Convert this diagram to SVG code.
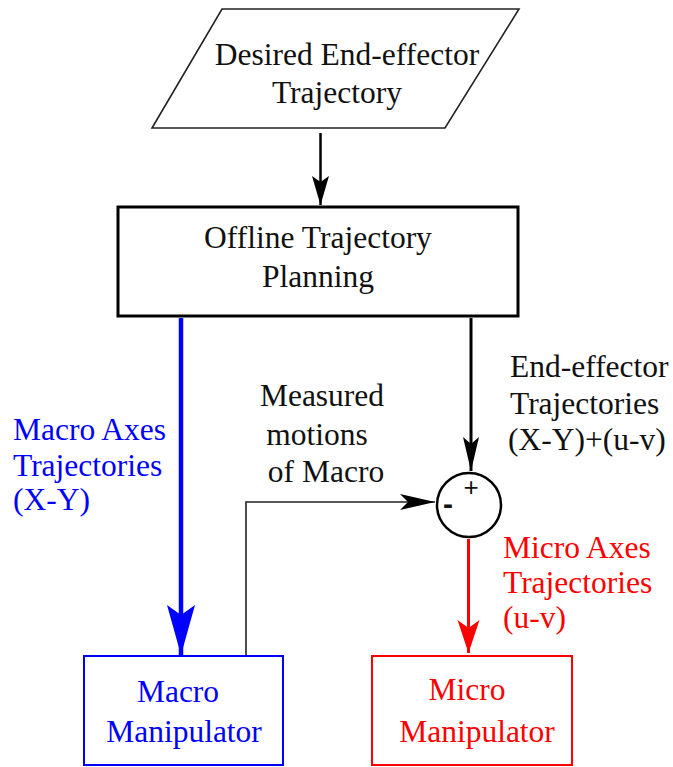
<svg xmlns="http://www.w3.org/2000/svg" width="673" height="767" viewBox="0 0 673 767">
  <style>
    text { font-family: "Liberation Serif", "Times New Roman", serif; font-size: 31.5px; fill: #111; }
    .mid { text-anchor: middle; }
    .blue { fill: #0000ff; }
    .red { fill: #ff0000; }
    .sign { font-family: "Liberation Sans", Arial, sans-serif; font-size: 26px; text-anchor: middle; }
    .minus { font-size: 30px; font-weight: bold; }
  </style>
  <defs>
    <!-- notched arrowheads, tip at the path end -->
    <marker id="headBlack" markerUnits="userSpaceOnUse" viewBox="-30 -9 31 18" markerWidth="31" markerHeight="18" refX="0" refY="0" orient="auto">
      <path d="M0,0 L-29,-8.5 L-23,0 L-29,8.5 Z" fill="#000"/>
    </marker>
    <marker id="headBlackSum" markerUnits="userSpaceOnUse" viewBox="-35 -9 36 18" markerWidth="36" markerHeight="18" refX="0" refY="0" orient="auto">
      <path d="M0,0 L-34,-8 L-27,0 L-34,8 Z" fill="#000"/>
    </marker>
    <marker id="headFeedback" markerUnits="userSpaceOnUse" viewBox="-36 -9 37 18" markerWidth="37" markerHeight="18" refX="0" refY="0" orient="auto">
      <path d="M0,0 L-35,-8 L-27,0 L-35,8 Z" fill="#000"/>
    </marker>
    <marker id="headBlue" markerUnits="userSpaceOnUse" viewBox="-52 -15 53 30" markerWidth="53" markerHeight="30" refX="0" refY="0" orient="auto">
      <path d="M0,0 L-50,-14 L-40,0 L-50,14 Z" fill="#0000ff"/>
    </marker>
    <marker id="headRed" markerUnits="userSpaceOnUse" viewBox="-35 -12 36 24" markerWidth="36" markerHeight="24" refX="0" refY="0" orient="auto">
      <path d="M0,0 L-33,-11 L-25,0 L-33,11 Z" fill="#ff0000"/>
    </marker>
  </defs>

  <rect width="673" height="767" fill="#fff"/>

  <!-- connectors -->
  <g id="connectors" fill="none">
    <path d="M320.5,133 V205" stroke="#000" stroke-width="2.5" marker-end="url(#headBlack)"/>
    <path d="M181,318 V655" stroke="#0000ff" stroke-width="4.5" marker-end="url(#headBlue)"/>
    <path d="M471,318 V471" stroke="#000" stroke-width="3" marker-end="url(#headBlackSum)"/>
    <path d="M246,655 V502 H435" stroke="#222" stroke-width="1.6" marker-end="url(#headFeedback)"/>
    <path d="M468.5,539 V653" stroke="#ff0000" stroke-width="3" marker-end="url(#headRed)"/>
  </g>

  <!-- input trajectory -->
  <g id="desired-trajectory">
    <polygon points="222,9 519,9 445,128 152,128" fill="#fff" stroke="#222" stroke-width="1.6"/>
    <text class="mid" x="347" y="65">Desired End-effector</text>
    <text class="mid" x="337" y="103">Trajectory</text>
  </g>

  <!-- planner -->
  <g id="offline-planning">
    <rect x="118" y="207" width="400" height="109" fill="#fff" stroke="#000" stroke-width="3"/>
    <text class="mid" x="318" y="248">Offline Trajectory</text>
    <text class="mid" x="318" y="287">Planning</text>
  </g>

  <!-- summing junction -->
  <g id="summing-junction">
    <circle cx="469" cy="505" r="32" fill="#fff" stroke="#000" stroke-width="2.5"/>
    <text class="sign" x="471" y="496">+</text>
    <text class="sign minus" x="448" y="514">-</text>
  </g>

  <!-- manipulators -->
  <g id="macro-manipulator">
    <rect x="84" y="656" width="199" height="109" fill="#fff" stroke="#0000ff" stroke-width="2"/>
    <text class="mid blue" x="178" y="702">Macro</text>
    <text class="mid blue" x="184" y="742">Manipulator</text>
  </g>
  <g id="micro-manipulator">
    <rect x="372" y="656" width="200" height="109" fill="#fff" stroke="#ff0000" stroke-width="2"/>
    <text class="mid red" x="467" y="700">Micro</text>
    <text class="mid red" x="477" y="742">Manipulator</text>
  </g>

  <!-- signal labels -->
  <g id="label-macro-axes">
    <text class="blue" x="13" y="440">Macro Axes</text>
    <text class="blue" x="13" y="476">Trajectories</text>
    <text class="blue" x="13" y="510">(X-Y)</text>
  </g>
  <g id="label-measured">
    <text class="mid" x="322" y="406">Measured</text>
    <text class="mid" x="317" y="445">motions</text>
    <text class="mid" x="326" y="482">of Macro</text>
  </g>
  <g id="label-end-effector">
    <text x="510" y="377">End-effector</text>
    <text x="510" y="414">Trajectories</text>
    <text x="508" y="450">(X-Y)+(u-v)</text>
  </g>
  <g id="label-micro-axes">
    <text class="red" x="503" y="558">Micro Axes</text>
    <text class="red" x="503" y="593">Trajectories</text>
    <text class="red" x="503" y="628">(u-v)</text>
  </g>
</svg>
